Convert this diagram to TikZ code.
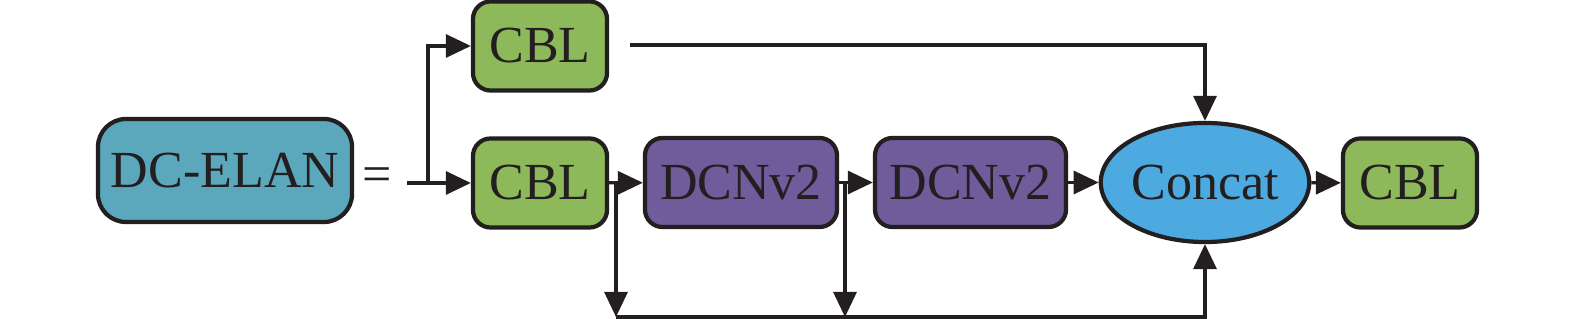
\documentclass[tikz,border=0pt]{standalone}
\usepackage{fontspec}
\setmainfont{Liberation Serif}
\usepackage{xcolor}
\usetikzlibrary{shapes.geometric,arrows.meta,positioning,calc}
\definecolor{elanfill}{RGB}{91,167,187}
\definecolor{cblfill}{RGB}{141,185,90}
\definecolor{dcnfill}{RGB}{112,91,155}
\definecolor{catfill}{RGB}{77,170,224}
\definecolor{ink}{RGB}{35,31,32}

\begin{document}
\begin{tikzpicture}[x=0.01cm, y=0.01cm,
  box/.style={rectangle, rounded corners=5pt, draw=ink, line width=1.2pt,
    minimum width=1.34cm, minimum height=0.89cm, inner sep=0pt,
    font=\fontsize{14.8}{17}\selectfont, text=ink},
  arrow/.style={-{Triangle[length=2.5mm, width=2.3mm]},
    line width=0.9pt, draw=ink},
]
\useasboundingbox (0,-319) rectangle (1575,0);

% Blocks
\node[box, fill=elanfill, minimum width=2.54cm, minimum height=1.03cm,
  rounded corners=8pt] (elan) at (225,-170.5) {DC-ELAN};
\node[font=\fontsize{14.8}{17}\selectfont, text=ink] (eq) at (377,-180) {=};
\node[box, fill=cblfill] (cbla) at (540,-46) {CBL};
\node[box, fill=cblfill] (cblb) at (540,-183) {CBL};
\node[box, fill=dcnfill, minimum width=1.92cm] (dcna) at (741,-182.5) {DCNv2};
\node[box, fill=dcnfill, minimum width=1.91cm] (dcnb) at (970.5,-182.5) {DCNv2};
\node[ellipse, draw=ink, line width=1.2pt, fill=catfill, minimum width=2cm,
  minimum height=1.19cm, inner sep=0pt, font=\fontsize{14.8}{17}\selectfont,
  text=ink] (cat) at (1205,-182.5) {Concat};
\node[box, fill=cblfill] (cblc) at (1410,-183) {CBL};

% Helper points
\coordinate (in) at (407,-183);
\coordinate (jn) at (428,-183);
\coordinate (top) at (630,-45);
\coordinate (ba) at (616,-183);
\coordinate (bad) at (616,-317);
\coordinate (bb) at (845,-183);
\coordinate (bbd) at (845,-317);

% Arrows
\draw[arrow] (in) -- (cblb);
\draw[arrow] (jn) |- (cbla.west);
\draw[arrow] (top) -| (cat.north);
\draw[arrow] (cblb) -- (dcna);
\draw[arrow] (dcna) -- (dcnb);
\draw[arrow] (dcnb) -- (cat);
\draw[arrow] (cat) -- (cblc);
\draw[arrow] (ba) -- (bad);
\draw[arrow] (bb) -- (bbd);
\draw[arrow] (bad) -| (cat.south);
\end{tikzpicture}
\end{document}
